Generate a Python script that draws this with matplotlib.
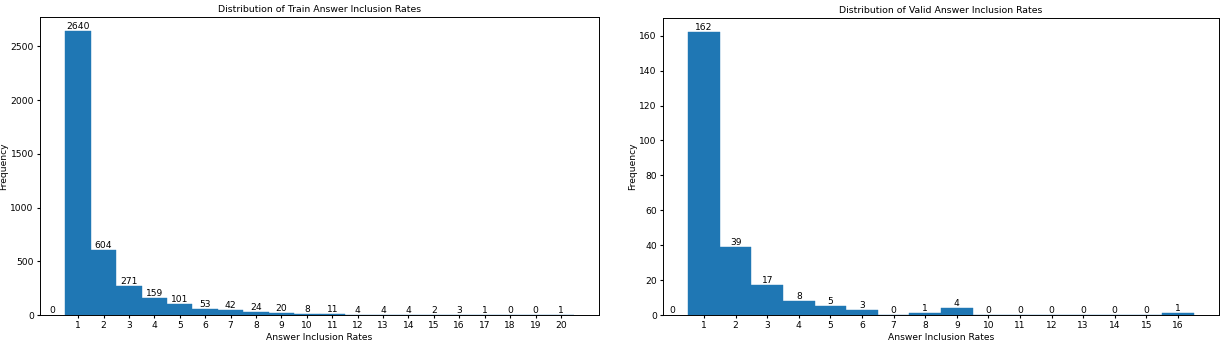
import numpy as np
import matplotlib
matplotlib.use("Agg")
import matplotlib.pyplot as plt

# answer inclusion rate -> number of questions
train_rates = list(range(0, 21))
train_counts = [0, 2640, 604, 271, 159, 101, 53, 42, 24, 20, 8, 11, 4, 4, 4, 2, 3, 1, 0, 0, 1]

valid_rates = list(range(0, 17))
valid_counts = [0, 162, 39, 17, 8, 5, 3, 0, 1, 4, 0, 0, 0, 0, 0, 0, 1]

FS = 6.6


def draw_panel(ax, rates, counts, name):
    rates = np.array(rates)
    counts = np.array(counts)
    keep = rates >= 1
    ax.bar(rates[keep], counts[keep], width=1.0, color='#1f77b4',
           edgecolor='#1f77b4', linewidth=0.3)
    for r, c in zip(rates, counts):
        ax.text(r, c, str(c), ha='center', va='bottom', fontsize=FS)
    ax.set_xticks(rates[keep])
    ax.tick_params(labelsize=FS, length=2.5, pad=2)
    ax.set_title(f'Distribution of {name} Answer Inclusion Rates', fontsize=FS * 1.02, pad=4)
    ax.set_xlabel('Answer Inclusion Rates', fontsize=FS, labelpad=2)
    ax.set_ylabel('Frequency', fontsize=FS, labelpad=1.5)
    for s in ax.spines.values():
        s.set_linewidth(0.7)


fig = plt.figure(figsize=(12.24, 3.44), dpi=100)
ax1 = fig.add_axes([0.0327, 0.0843, 0.4567, 0.866])
ax2 = fig.add_axes([0.5417, 0.0843, 0.4542, 0.863])

draw_panel(ax1, train_rates, train_counts, 'Train')
draw_panel(ax2, valid_rates, valid_counts, 'Valid')

fig.savefig('out.png', dpi=100)
